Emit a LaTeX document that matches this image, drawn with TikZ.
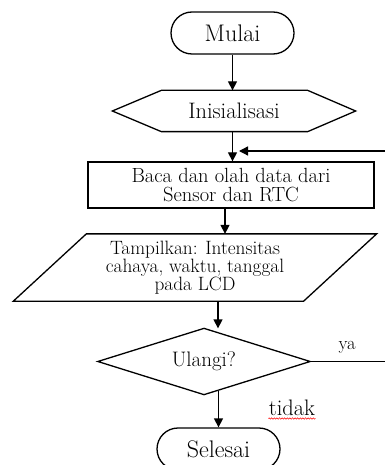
\documentclass[tikz,border=0pt]{standalone}
\usetikzlibrary{arrows.meta,shapes.geometric,decorations.pathmorphing}
\begin{document}
\begin{tikzpicture}[x=1pt,y=-1pt,
  line width=1.3pt,
  arr/.style={-{Triangle[length=9pt,width=9pt]}},
  term/.style={draw,rounded corners=21pt,minimum width=123pt,minimum height=42pt,inner sep=0pt,font=\fontsize{24}{26}\selectfont},
  plain/.style={inner sep=0pt},
  txt/.style={inner sep=0pt}
]
\useasboundingbox (0,0) rectangle (384,465);
% nodes
\node[term] (mulai) at (232.5,33) {Mulai};
\node[plain,minimum width=242pt,minimum height=40pt,font=\fontsize{22.4}{24}\selectfont] (init) at (234,111) {Inisialisasi};
\draw (init.west) -- ([xshift=49pt]init.north west) -- ([xshift=-48pt]init.north east) -- (init.east)
      -- ([xshift=-48pt]init.south east) -- ([xshift=49pt]init.south west) -- cycle;
\node[draw,minimum width=286pt,minimum height=46pt,inner sep=0pt,align=center,font=\fontsize{20.5}{19}\selectfont] (rect) at (231,185) {Baca dan olah data dari\\Sensor dan RTC};
\node[plain,minimum width=362pt,minimum height=66pt,align=center,font=\fontsize{19.3}{16.5}\selectfont] (para) at (195,267.5) {Tampilkan: Intensitas\\cahaya, waktu, tanggal\\pada LCD};
\draw ([xshift=73pt]para.north west) -- (para.north east) -- ([xshift=-73pt]para.south east) -- (para.south west) -- cycle;
\node[plain,minimum width=211pt,minimum height=65pt,font=\fontsize{21}{22}\selectfont] (dia) at (204,361.5) {Ulangi?};
\draw (dia.north) -- (dia.east) -- (dia.south) -- (dia.west) -- cycle;
\node[term] (sel) at (218.5,449) {Selesai};
\node[txt,font=\fontsize{18.5}{20}\selectfont] (ya) at (347,347) {ya};
\node[txt,font=\fontsize{22.4}{24}\selectfont] (tidak) at (292,408) {tidak};
\draw[red,line width=0.5pt,decorate,decoration={snake,amplitude=0.7pt,segment length=2.6pt}]
  ([yshift=-2pt]tidak.south west) -- ([yshift=-2pt]tidak.south east);
% connectors
\coordinate (fb1) at (392,361.5);
\coordinate (fb2) at (392,151);
\coordinate (fbend) at (239,151);
\draw[arr] (mulai.south) -- (mulai.south |- init.north);
\draw[arr] (init.south -| mulai.south) -- (rect.north -| mulai.south);
\draw[arr] ([xshift=-6pt]rect.south) -- ([xshift=-6pt]rect.south |- para.north);
\draw[arr] ([xshift=23pt]para.south) -- ([xshift=23pt]para.south |- dia.north);
\draw[arr] ([yshift=4pt]dia.south -| sel.north) -- (sel.north);
\draw[arr] (dia.east) -- (fb1) -- (fb2) -- (fbend);
\end{tikzpicture}
\end{document}
